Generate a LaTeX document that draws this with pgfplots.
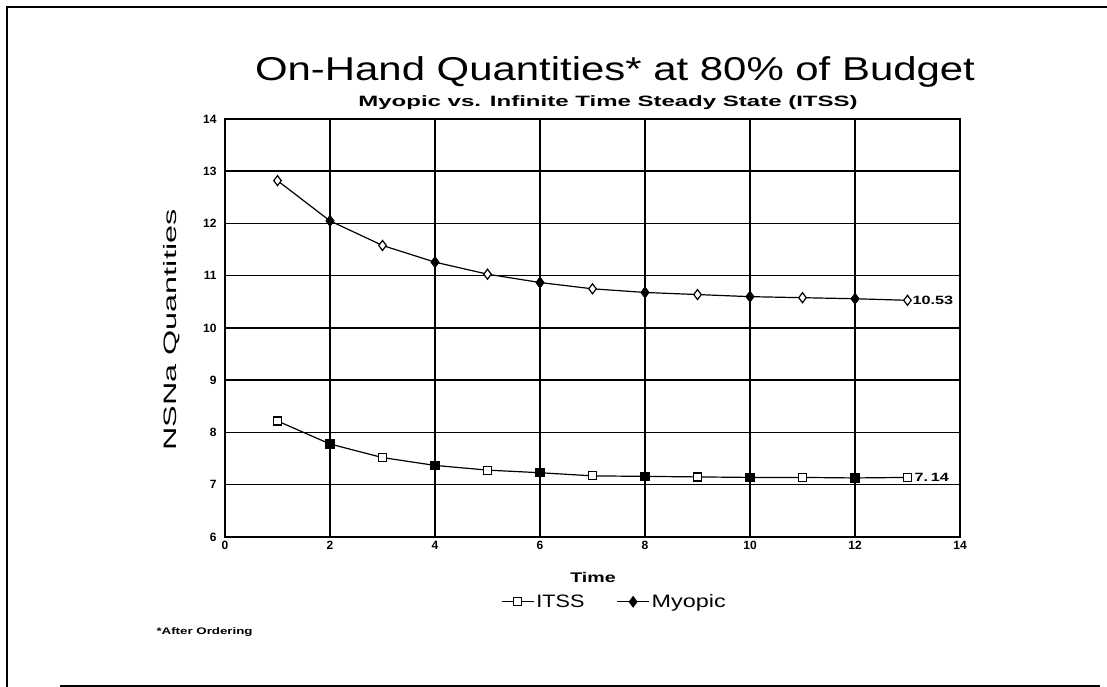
\documentclass[border=0pt]{standalone}
\usepackage{pgfplots}
\pgfplotsset{compat=1.18}
\usepackage{fontspec}
\setmainfont{Liberation Sans}
\begin{document}
\begin{tikzpicture}[x=1pt,y=1pt]
\useasboundingbox (0,0) rectangle (1107,687);
\draw[line width=2pt] (7,0) -- (7,680) -- (1107,680);
\draw[line width=1.5pt] (60,1) -- (1100,1);
\begin{axis}[at={(225pt,150pt)}, anchor=south west, scale only axis,
  width=735pt, height=418pt,
  xmin=0, xmax=14, ymin=6, ymax=14,
  xtick={0,2,...,14}, ytick={6,7,...,14},
  grid=major, major grid style={black, line width=1.5pt},
  axis line style={line width=1.6pt},
  tick style={draw=none},
  ticklabel style={font=\bfseries\fontsize{12}{14}\selectfont},
  yticklabel style={xshift=-5pt},
  xticklabel style={yshift=-1pt},
  /pgf/number format/assume math mode=true,
  clip=false,
  legend style={at={(0.53,-0.155)}, anchor=center, draw=none, fill=none,
    legend columns=2, font=\fontsize{18}{20}\selectfont,
    /tikz/every even column/.append style={column sep=30pt}},
  legend cell align=left,
  legend image code/.code={%
    \draw[#1, mark repeat=2, mark phase=2] plot coordinates {(0pt,0pt) (16pt,0pt) (32pt,0pt)};},
]
\addplot[black, line width=1.2pt, mark=square*, mark size=4pt,
  mark options={fill=white, line width=1.2pt}, forget plot] coordinates {
(1,8.22) (2,7.78) (3,7.52) (4,7.37) (5,7.28) (6,7.23) (7,7.17)
(8,7.16) (9,7.15) (10,7.14) (11,7.14) (12,7.13) (13,7.14)};
\addplot[only marks, black, mark=*, mark size=4.5pt, forget plot] coordinates {
(2,7.78) (4,7.37) (6,7.23) (8,7.16) (10,7.14) (12,7.13)};
\addplot[black, line width=1.2pt, mark=diamond*, mark size=5pt,
  mark options={fill=white, line width=1.2pt}, forget plot] coordinates {
(1,12.82) (2,12.05) (3,11.58) (4,11.26) (5,11.03) (6,10.87) (7,10.75)
(8,10.68) (9,10.64) (10,10.60) (11,10.58) (12,10.56) (13,10.53)};
\addplot[only marks, black, mark=diamond*, mark size=5.5pt, forget plot] coordinates {
(2,12.05) (4,11.26) (6,10.87) (8,10.68) (10,10.60) (12,10.56)};
\addlegendimage{black, line width=1.2pt, mark=square*, mark size=4pt, mark options={fill=white}}
\addlegendentry{\scalebox{1.2}[1]{ITSS}}
\addlegendimage{black, line width=1.2pt, mark=diamond*, mark size=5pt, mark options={fill=black}}
\addlegendentry{\scalebox{1.3}[1]{Myopic}}
\node[anchor=west, font=\bfseries\fontsize{12}{14}\selectfont, inner sep=1pt, xshift=4pt] at (axis cs:13,10.53) {\scalebox{1.35}[1]{10.53}};
\node[anchor=west, font=\bfseries\fontsize{12}{14}\selectfont, inner sep=1pt, xshift=6pt] at (axis cs:13,7.14) {\scalebox{1.35}[1]{7.\,14}};
\end{axis}
\node[font=\fontsize{33}{38}\selectfont] at (615,615) {\scalebox{1.27}[1]{On-Hand Quantities* at 80\% of Budget}};
\node[font=\bfseries\fontsize{15}{18}\selectfont] at (608,584) {\scalebox{1.6}[1]{Myopic vs. Infinite Time Steady State (ITSS)}};
\node[rotate=90, font=\fontsize{18}{20}\selectfont] at (172,357) {\scalebox{1.8}[1]{NSNa Quantities}};
\node[font=\bfseries\fontsize{14}{17}\selectfont] at (593,110) {\scalebox{1.4}[1]{Time}};
\node[anchor=west, font=\bfseries\fontsize{9.5}{11}\selectfont] at (153,55) {\scalebox{1.4}[1]{*After Ordering}};
\end{tikzpicture}
\end{document}
